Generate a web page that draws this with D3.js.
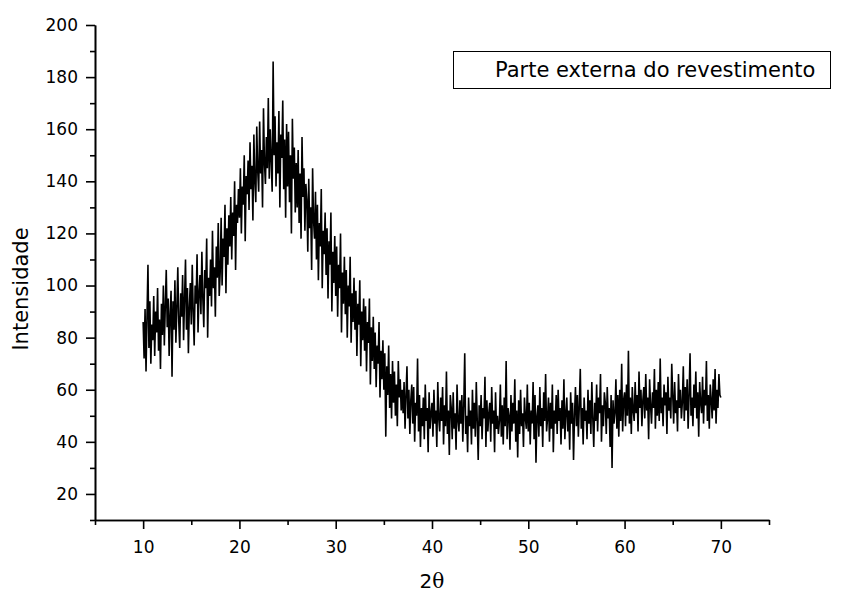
<!DOCTYPE html>
<html>
<head>
<meta charset="utf-8">
<script src="https://cdn.jsdelivr.net/npm/d3@7"></script>
<style>
  html, body { margin: 0; padding: 0; background: #fff; }
  svg { display: block; font-family: "DejaVu Sans", sans-serif; }
</style>
</head>
<body>
<svg id="chart" width="851" height="594"></svg>
<script>
// ---- Data ----
const xStart = 10;
const xStep = 0.1;
const intensity = [
  86, 72, 91, 67, 88, 108, 76, 94, 70, 85,
  79, 96, 73, 90, 82, 99, 75, 87, 68, 93,
  81, 100, 77, 92, 106, 84, 95, 73, 89, 98,
  65, 94, 83, 102, 78, 91, 107, 86, 76, 97,
  88, 104, 79, 95, 110, 83, 99, 74, 92, 101,
  85, 108, 90, 77, 100, 93, 112, 82, 97, 104,
  89, 113, 95, 84, 106, 99, 118, 80, 103, 96,
  110, 92, 121, 99, 107, 88, 115, 103, 124, 96,
  105, 126, 100, 118, 111, 131, 97, 122, 108, 127,
  115, 134, 110, 128, 119, 140, 106, 131, 124, 137,
  126, 145, 120, 138, 131, 150, 117, 142, 135, 148,
  129, 155, 137, 146, 125, 158, 140, 132, 161, 144,
  136, 163, 143, 152, 130, 168, 147, 139, 157, 145,
  172, 141, 160, 148, 136, 186, 150, 165, 138, 155,
  143, 167, 130, 158, 149, 171, 137, 156, 126, 162,
  138, 159, 132, 150, 120, 164, 141, 153, 128, 147,
  130, 152, 124, 143, 118, 157, 134, 145, 121, 139,
  133, 113, 141, 122, 130, 106, 145, 125, 118, 136,
  110, 131, 102, 124, 115, 137, 99, 121, 112, 128,
  104, 122, 95, 117, 108, 128, 90, 113, 101, 119,
  96, 115, 88, 108, 99, 120, 82, 105, 93, 111,
  89, 106, 80, 100, 92, 111, 78, 97, 86, 103,
  83, 98, 73, 93, 85, 102, 69, 90, 79, 95,
  75, 92, 67, 86, 78, 95, 62, 84, 71, 88,
  68, 82, 61, 77, 70, 86, 57, 75, 64, 79,
  60, 74, 42, 69, 58, 77, 53, 66, 49, 71,
  55, 67, 50, 62, 46, 71, 57, 64, 52, 60,
  51, 63, 45, 58, 69, 49, 60, 43, 56, 62,
  47, 61, 40, 55, 50, 72, 44, 58, 38, 53,
  46, 57, 41, 62, 48, 53, 36, 59, 45, 51,
  55, 42, 60, 47, 52, 38, 63, 49, 44, 57,
  48, 61, 39, 54, 46, 67, 43, 52, 35, 58,
  53, 41, 59, 45, 51, 37, 62, 48, 44, 56,
  47, 58, 40, 54, 74, 43, 50, 36, 57, 46,
  52, 39, 60, 45, 55, 42, 63, 48, 33, 54,
  46, 58, 41, 53, 49, 65, 38, 56, 44, 51,
  55, 40, 61, 47, 52, 36, 59, 45, 50, 43,
  48, 62, 42, 54, 39, 57, 46, 71, 41, 53,
  50, 37, 58, 44, 55, 47, 64, 40, 52, 34,
  56, 43, 60, 46, 51, 38, 57, 49, 45, 62,
  44, 55, 39, 52, 47, 63, 41, 58, 32, 50,
  54, 42, 61, 46, 53, 38, 59, 48, 66, 44,
  49, 57, 40, 55, 45, 62, 36, 52, 47, 58,
  43, 60, 48, 53, 39, 56, 45, 64, 41, 51,
  57, 44, 52, 37, 59, 47, 55, 33, 50, 61,
  46, 58, 42, 54, 68, 45, 53, 39, 57, 48,
  52, 41, 60, 47, 56, 43, 63, 49, 38, 55,
  48, 62, 44, 57, 51, 66, 40, 54, 46, 59,
  55, 43, 61, 49, 53, 38, 58, 30, 56, 47,
  51, 64, 45, 58, 42, 60, 48, 70, 44, 56,
  59, 46, 62, 50, 75, 47, 57, 43, 61, 52,
  48, 63, 51, 58, 44, 67, 53, 60, 46, 56,
  61, 49, 66, 52, 57, 41, 64, 54, 47, 59,
  53, 68, 45, 60, 50, 63, 48, 72, 51, 57,
  46, 62, 54, 59, 43, 65, 52, 57, 49, 70,
  58, 47, 63, 51, 56, 44, 66, 53, 60, 49,
  55, 69, 48, 61, 52, 64, 45, 58, 74, 50,
  57, 46, 62, 53, 67, 49, 59, 42, 63, 55,
  51, 65, 47, 60, 54, 71, 48, 58, 45, 62,
  56, 49, 64, 52, 68, 47, 60, 53, 66, 58,
  57
];
const xMajorTicks = [10, 20, 30, 40, 50, 60, 70];
const xMinorTicks = [5, 15, 25, 35, 45, 55, 65, 75];
const yMajorTicks = [20, 40, 60, 80, 100, 120, 140, 160, 180, 200];
const yMinorTicks = [10, 30, 50, 70, 90, 110, 130, 150, 170, 190];
const xDomain = [5, 75];
const yDomain = [10, 200];
const legendLabel = "Parte externa do revestimento";
const yTitle = "Intensidade";

// ---- Drawing ----
const svg = d3.select("#chart");
const x = d3.scaleLinear().domain(xDomain).range([95, 769]);
const y = d3.scaleLinear().domain(yDomain).range([520, 25]);

const points = intensity.map((v, i) => ({ t: xStart + i * xStep, v }));

// data line
svg.append("path")
  .datum(points)
  .attr("fill", "none")
  .attr("stroke", "#000")
  .attr("stroke-width", 1.6)
  .attr("stroke-linejoin", "miter")
  .attr("d", d3.line().x(d => x(d.t)).y(d => y(d.v)));

// axes
svg.append("g").attr("transform", "translate(0,520)")
  .call(d3.axisBottom(x).tickValues(xMajorTicks).tickSize(9).tickSizeOuter(0).tickPadding(12).tickFormat(d3.format("d")));
svg.append("g").attr("transform", "translate(0,520)")
  .call(d3.axisBottom(x).tickValues(xMinorTicks).tickSize(5).tickSizeOuter(0).tickFormat(""));
svg.append("g").attr("transform", "translate(95,0)")
  .call(d3.axisLeft(y).tickValues(yMajorTicks).tickSize(9).tickSizeOuter(0).tickPadding(8).tickFormat(d3.format("d")));
svg.append("g").attr("transform", "translate(95,0)")
  .call(d3.axisLeft(y).tickValues(yMinorTicks).tickSize(5).tickSizeOuter(0).tickFormat(""));

svg.selectAll(".domain").attr("stroke", "#000").attr("stroke-width", 1.6);
svg.selectAll(".tick line").attr("stroke", "#000").attr("stroke-width", 1.6);
svg.selectAll(".tick text")
  .attr("fill", "#000")
  .style("font-family", "'DejaVu Sans', sans-serif")
  .style("font-size", "17px");

// axis titles
svg.append("text")
  .attr("transform", "translate(28,289) rotate(-90)")
  .attr("text-anchor", "middle")
  .style("font-size", "21px")
  .text(yTitle);

const xt = svg.append("text")
  .attr("x", 432).attr("y", 588)
  .attr("text-anchor", "middle")
  .style("font-size", "20px");
xt.append("tspan").text("2");
xt.append("tspan").style("font-family", "'DejaVu Serif', serif").text("θ");

// legend box
svg.append("rect")
  .attr("x", 453.5).attr("y", 51.5)
  .attr("width", 377).attr("height", 37)
  .attr("fill", "#fff").attr("stroke", "#000").attr("stroke-width", 1);
svg.append("text")
  .attr("x", 495).attr("y", 77)
  .style("font-size", "21px")
  .text(legendLabel);
</script>
</body>
</html>
